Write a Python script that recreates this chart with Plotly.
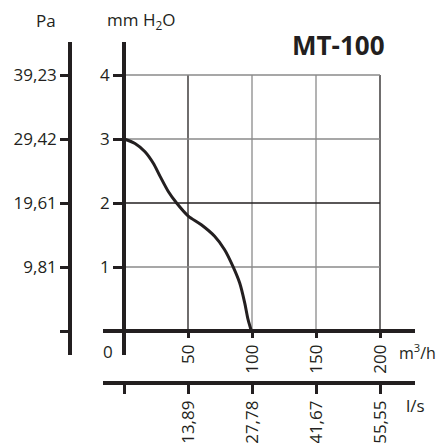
import plotly.graph_objects as go

# fan curve MT-100
flow_m3h = [0, 8.6, 16.4, 22.9, 28.1, 34.6, 41.1, 50, 60.4, 70.8, 78.6, 85.1, 90.4, 94.3, 96.9, 99.5]
pressure_mm = [3.0, 2.93, 2.80, 2.62, 2.42, 2.18, 2.0, 1.80, 1.66, 1.48, 1.27, 1.01, 0.75, 0.44, 0.18, 0.0]

mm_ticks = [1, 2, 3, 4]
pa_ticks = [0, 1, 2, 3, 4]
pa_labels = ["", "9,81", "19,61", "29,42", "39,23"]
m3h_ticks = [50, 100, 150, 200]
m3h_labels = ["50", "100", "150", "200"]
ls_ticks = [0, 50, 100, 150, 200]
ls_labels = ["", "13,89", "27,78", "41,67", "55,55"]

# the page body has an 8px margin, so the figure is drawn 8px in from the corner
OFF = 8
W, H = 445 - OFF, 443 - OFF
INK = "#231f20"
GRAY = "#8a8a8a"
FONT = "Open Sans"

def px(x):
    return (x - OFF) / W

def py(y):
    return 1 - (y - OFF) / H

# x: 0 at px 124, 1.28 px per m3/h ; y: 0 at px 331, 64 px per mm
x_range = [(103 - 124) / 1.28, (415 - 124) / 1.28]
y_range = [(331 - 355) / 64, (331 - 42) / 64]

fig = go.Figure()

# grid
grid_x_col = [INK, GRAY, GRAY, INK]
grid_y_col = [GRAY, INK, GRAY, GRAY]
for v, c in zip(m3h_ticks, grid_x_col):
    fig.add_shape(type="line", xref="x", yref="y", x0=v, x1=v, y0=0, y1=max(mm_ticks),
                  line=dict(color=c, width=1.3), layer="below")
for v, c in zip(mm_ticks, grid_y_col):
    fig.add_shape(type="line", xref="x", yref="y", x0=0, x1=max(m3h_ticks), y0=v, y1=v,
                  line=dict(color=c, width=1.3), layer="below")

fig.add_trace(go.Scatter(
    x=flow_m3h, y=pressure_mm, mode="lines",
    line=dict(color=INK, width=3, shape="spline", smoothing=0.8),
    showlegend=False, hoverinfo="skip"
))
fig.add_trace(go.Scatter(
    x=flow_m3h, y=pressure_mm, xaxis="x2", yaxis="y2", mode="none",
    showlegend=False, hoverinfo="skip"
))

tick_font = dict(family=FONT, size=17, color=INK)

fig.update_layout(
    width=W, height=H,
    margin=dict(l=0, r=0, t=0, b=0),
    plot_bgcolor="white", paper_bgcolor="white",
    xaxis=dict(
        domain=[px(103), px(415)], range=x_range, anchor="free", position=py(331),
        showgrid=False, zeroline=False, showline=True, linecolor=INK, linewidth=3.5,
        ticks="outside", ticklen=5, tickwidth=3, tickcolor=INK,
        tickvals=m3h_ticks, ticktext=m3h_labels, tickangle=-90, tickfont=tick_font,
        fixedrange=True
    ),
    xaxis2=dict(
        overlaying="x", range=x_range, anchor="free", position=py(383), side="bottom",
        showgrid=False, zeroline=False, showline=True, linecolor=INK, linewidth=3.5,
        ticks="outside", ticklen=9, tickwidth=3, tickcolor=INK,
        tickvals=ls_ticks, ticktext=ls_labels, tickangle=-90, tickfont=tick_font,
        fixedrange=True
    ),
    yaxis=dict(
        domain=[py(355), py(42)], range=y_range, anchor="free", position=px(124),
        showgrid=False, zeroline=False, showline=True, linecolor=INK, linewidth=3.5,
        ticks="outside", ticklen=9, tickwidth=3, tickcolor=INK,
        tickvals=mm_ticks, tickfont=tick_font, fixedrange=True
    ),
    yaxis2=dict(
        overlaying="y", range=y_range, anchor="free", position=px(70), side="left",
        showgrid=False, zeroline=False, showline=True, linecolor=INK, linewidth=3.5,
        ticks="outside", ticklen=8, tickwidth=3, tickcolor=INK,
        tickvals=pa_ticks, ticktext=pa_labels, tickfont=tick_font, fixedrange=True
    ),
)

notes = [
    ("Pa", 46, 21, 17, False, "center"),
    ("mm H<sub>2</sub>O", 141, 21, 17, False, "center"),
    ("MT-100", 338, 45, 26, True, "center"),
    ("m<sup>3</sup>/h", 398, 352, 16, False, "left"),
    ("l/s", 415, 405, 17, False, "center"),
    ("0", 108, 351, 17, False, "center"),
]
for text, ax_, ay_, size, bold, anchor in notes:
    fig.add_annotation(
        text=f"<b>{text}</b>" if bold else text,
        x=px(ax_), y=py(ay_), xref="paper", yref="paper",
        showarrow=False, xanchor=anchor, yanchor="middle", borderpad=0,
        font=dict(family=FONT, size=size, color=INK)
    )

fig.write_html("out.html")
